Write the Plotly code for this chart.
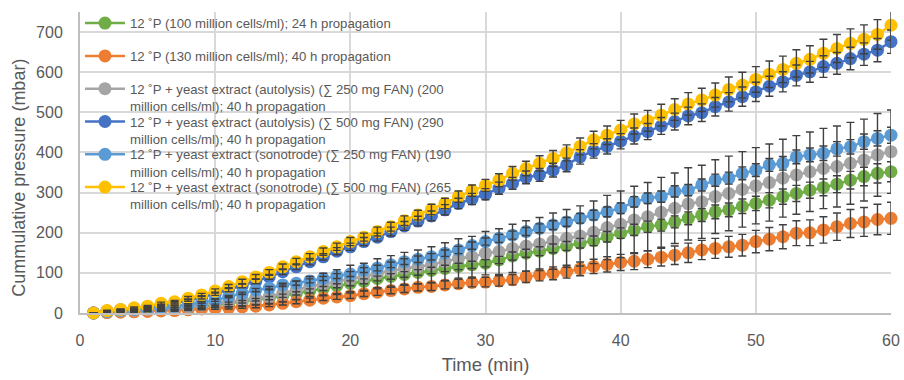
import plotly.graph_objects as go

# Time axis (minutes)
minutes = list(range(1, 61))

# Cumulative pressure (mbar) per fermentation condition
p_100m_24h = [0, 2, 4, 6, 8, 10, 12, 14, 17, 20, 24, 28, 33, 37,
              43, 49, 55, 61, 68, 74, 79, 86, 91, 96, 101, 106, 111, 116, 120,
              124, 132, 142, 149, 154, 161, 167, 174, 180, 190, 199, 207, 215, 219, 227,
              236, 244, 252, 257, 266, 273, 281, 290, 298, 306, 313, 321, 331, 340, 348, 352]
p_130m_40h = [0, 1, 2, 3, 4, 5, 6, 8, 10, 12, 13, 15, 17,
              20, 24, 28, 32, 37, 40, 43, 48, 52, 56, 60, 64, 66, 70, 73, 76,
              77, 80, 83, 90, 95, 99, 103, 110, 116, 121, 126, 129, 134, 139, 144, 150,
              157, 161, 165, 169, 178, 184, 190, 199, 200, 207, 215, 223, 227, 233, 236]
p_auto_250 = [0, 3, 5, 7, 9, 11, 13, 16, 20, 24, 28, 32, 37, 41,
              49, 57, 66, 72, 78, 86, 90, 99, 105, 111, 115, 120, 128, 136, 140,
              149, 153, 161, 167, 172, 179, 186, 192, 201, 213, 221, 232, 240, 251, 261, 272,
              277, 290, 298, 308, 317, 325, 336, 344, 352, 360, 365, 373, 381, 394, 402]
p_auto_500 = [0, 5, 8, 11, 15, 20, 25, 32, 39, 48, 58, 68, 79, 90,
              103, 115, 128, 140, 154, 165, 178, 189, 203, 217, 229, 242, 257, 273, 284,
              296, 311, 323, 338, 344, 356, 369, 389, 404, 415, 428, 441, 452, 466, 477, 491,
              499, 514, 526, 539, 551, 565, 576, 592, 601, 614, 622, 634, 645, 655, 676]
p_sono_250 = [0, 4, 7, 9, 11, 14, 17, 21, 26, 32, 41, 49, 57,
              62, 70, 74, 80, 86, 92, 97, 107, 112, 120, 128, 134, 140, 149, 157, 168,
              178, 186, 194, 203, 211, 219, 227, 236, 244, 252, 261, 277,
              286, 290, 303, 306, 319, 331, 336, 348, 356, 369, 373, 389, 394, 398, 409, 414, 427, 435, 443]
p_sono_500 = [0, 6, 9, 13, 17, 24, 28, 37, 45, 55, 66, 78, 90, 101,
              115, 128, 140, 153, 165, 178, 189, 203, 215, 230, 244, 258, 273, 290, 305,
              318, 331, 348, 360, 373, 385, 399, 415, 431, 443, 456, 471, 479, 493, 507, 521,
              531, 543, 557, 568, 582, 595, 607, 622, 632, 647, 659, 672, 682, 694, 717]

# Standard deviations (mbar)
sd_100m_24h = [0, 0, 1, 1, 1, 1, 2, 2, 2, 2, 3, 3, 3, 4, 4, 4, 5, 5, 5, 6,
               6, 6, 7, 7, 7, 8, 8, 8, 9, 9, 9, 10, 10, 11, 11, 11, 12, 12, 13, 13,
               14, 14, 15, 15, 16, 16, 17, 17, 18, 18, 19, 19, 20, 20, 21, 21, 22, 23, 24, 25]
sd_130m_40h = [0, 0, 1, 1, 1, 1, 2, 2, 2, 3, 3, 3, 4, 4, 4, 5, 5, 6, 6, 7,
               7, 8, 8, 9, 9, 10, 10, 11, 11, 12, 13, 13, 14, 15, 16, 16, 17, 18, 19, 20,
               21, 21, 22, 23, 24, 24, 25, 26, 27, 28, 29, 30, 31, 32, 33, 34, 35, 36, 38, 40]
sd_auto_250 = [0, 1, 2, 3, 4, 5, 6, 7, 9, 11, 13, 15, 17, 19, 21, 23, 25, 27, 30, 33,
               34, 36, 38, 40, 42, 45, 47, 49, 51, 54, 57, 60, 63, 66, 70, 72, 75, 78, 80, 83,
               84, 85, 87, 88, 90, 91, 92, 93, 94, 95, 96, 97, 98, 99, 100, 101, 102, 102, 103, 104]
sd_auto_500 = [0, 1, 1, 1, 2, 2, 3, 3, 4, 4, 5, 5, 6, 6, 7, 7, 8, 8, 9, 9,
               10, 10, 11, 11, 12, 12, 13, 13, 14, 14, 15, 15, 16, 16, 17, 17, 18, 18, 19, 19,
               20, 20, 21, 21, 22, 22, 23, 23, 24, 24, 25, 25, 26, 26, 27, 27, 28, 28, 29, 29]
sd_sono_250 = [0, 0, 1, 1, 1, 1, 2, 2, 2, 3, 3, 3, 4, 4, 4, 5, 5, 5, 6, 6,
               6, 7, 7, 7, 8, 8, 8, 9, 9, 9, 10, 10, 10, 11, 11, 11, 12, 12, 12, 13,
               13, 13, 14, 14, 14, 15, 15, 15, 16, 16, 16, 17, 17, 17, 18, 18, 18, 19, 19, 20]
sd_sono_500 = [0, 1, 1, 2, 2, 3, 3, 4, 4, 5, 5, 6, 6, 7, 7, 8, 8, 9, 9, 10,
               10, 11, 11, 12, 12, 13, 13, 14, 14, 15, 16, 17, 18, 19, 20, 20, 21, 22, 23, 24,
               25, 26, 27, 27, 28, 29, 30, 31, 32, 32, 33, 33, 34, 34, 35, 35, 36, 36, 37, 37]

names = [
    "12 ˚P (100 million cells/ml); 24 h propagation",
    "12 ˚P (130 million cells/ml); 40 h propagation",
    "12 ˚P + yeast extract (autolysis) (∑ 250 mg FAN) (200<br>million cells/ml); 40 h propagation",
    "12 ˚P + yeast extract (autolysis) (∑ 500 mg FAN) (290<br>million cells/ml); 40 h propagation",
    "12 ˚P + yeast extract (sonotrode) (∑ 250 mg FAN) (190<br>million cells/ml); 40 h propagation",
    "12 ˚P + yeast extract (sonotrode) (∑ 500 mg FAN) (265<br>million cells/ml); 40 h propagation",
]
series = [p_100m_24h, p_130m_40h, p_auto_250, p_auto_500, p_sono_250, p_sono_500]
errors = [sd_100m_24h, sd_130m_40h, sd_auto_250, sd_auto_500, sd_sono_250, sd_sono_500]
colors = ["#70AD47", "#ED7D31", "#A5A5A5", "#4472C4", "#5B9BD5", "#FFC000"]

FONT = "Liberation Sans"
TEXT = "#595959"
GRID = "#D9D9D9"
AXIS = "#BFBFBF"
ERR = "#404040"

W, H = 904, 380
M_L, M_R, M_T, M_B = 80, 4, 12, 67
PLOT_H = H - M_T - M_B
PLOT_W = W - M_L - M_R

# Vertical pixel position of each legend entry's top edge
legend_tops_px = [8, 40.8, 73.6, 106.4, 139.2, 172]
legend_ids = ["legend"] + [f"legend{i}" for i in range(2, 7)]

fig = go.Figure()

# Lines with markers, one legend box per condition
for name, ys, col, lid in zip(names, series, colors, legend_ids):
    fig.add_trace(go.Scatter(
        x=minutes, y=ys, name=name, mode="lines+markers",
        line=dict(color=col, width=2.5),
        marker=dict(color=col, size=13, line=dict(width=0)),
        cliponaxis=False, legend=lid,
    ))

# Error bars drawn above all markers
for ys, err in zip(series, errors):
    fig.add_trace(go.Scatter(
        x=minutes, y=ys, mode="markers", showlegend=False, hoverinfo="skip",
        marker=dict(size=1, opacity=0),
        error_y=dict(type="data", array=err, visible=True,
                     color=ERR, thickness=1.4, width=4),
        cliponaxis=False,
    ))

legend_layout = {}
for lid, top in zip(legend_ids, legend_tops_px):
    legend_layout[lid] = dict(
        x=0.0, y=1 - (top - M_T) / PLOT_H, xanchor="left", yanchor="top",
        bgcolor="rgba(0,0,0,0)", borderwidth=0,
        font=dict(family=FONT, size=13.2, color=TEXT),
        valign="top", itemwidth=40,
    )

fig.update_layout(
    width=W, height=H,
    margin=dict(l=M_L, r=M_R, t=M_T, b=M_B),
    paper_bgcolor="white", plot_bgcolor="white",
    font=dict(family=FONT, color=TEXT),
    showlegend=True,
    xaxis=dict(
        range=[0, 60], dtick=10, tick0=0,
        showgrid=True, gridcolor=GRID, gridwidth=1.5,
        showline=True, linecolor=AXIS, linewidth=2,
        zeroline=False, ticks="", ticklabelstandoff=12,
        ticklabeloverflow="allow",
        tickfont=dict(family=FONT, size=16, color=TEXT),
        title=dict(text="Time (min)", font=dict(family=FONT, size=18.5, color=TEXT), standoff=10),
    ),
    yaxis=dict(
        range=[0, 750], dtick=100, tick0=0,
        showgrid=True, gridcolor=GRID, gridwidth=1.5,
        showline=True, linecolor=AXIS, linewidth=2,
        zeroline=False, ticks="", ticklabelstandoff=12,
        tickfont=dict(family=FONT, size=16, color=TEXT),
    ),
    annotations=[dict(
        text="Cummulative pressure (mbar)", textangle=-90,
        xref="paper", yref="paper",
        x=(18 - M_L) / PLOT_W, y=1 - (178 - M_T) / PLOT_H,
        xanchor="center", yanchor="middle", showarrow=False,
        font=dict(family=FONT, size=18, color=TEXT),
    )],
    **legend_layout,
)

fig.write_html("out.html")
